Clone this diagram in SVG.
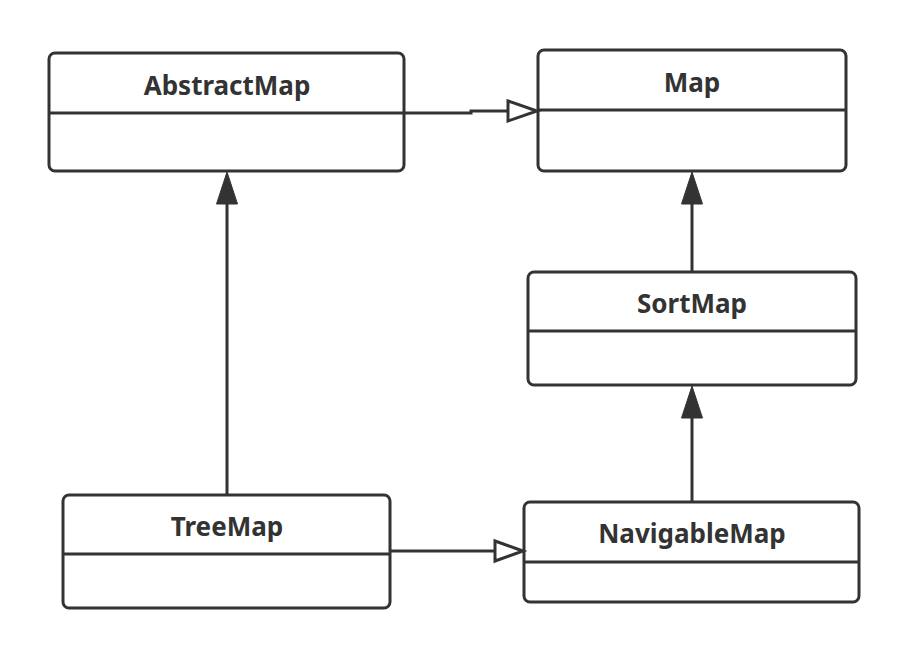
<svg xmlns="http://www.w3.org/2000/svg" width="910" height="659" viewBox="0 0 910 659">
<style>
.box{fill:#fff;stroke:#333;stroke-width:3}
.div{stroke:#333;stroke-width:3}
.lbl{font-family:"Noto Sans","Open Sans","Liberation Sans",sans-serif;font-weight:bold;font-size:26px;fill:#333;text-anchor:middle}
.ln{stroke:#333;stroke-width:3;fill:none}
.filled{fill:#333;stroke:#333;stroke-width:1}
.hollow{fill:#fff;stroke:#333;stroke-width:3}
</style>
<rect width="910" height="659" fill="#fff"/>
<g id="AbstractMap">
<rect class="box" x="49" y="53" width="355" height="118" rx="6"/>
<line class="div" x1="49" y1="113" x2="404" y2="113"/>
<text class="lbl" x="227" y="95">AbstractMap</text>
</g>
<g id="Map">
<rect class="box" x="538" y="50" width="308" height="121" rx="6"/>
<line class="div" x1="538" y1="110" x2="846" y2="110"/>
<text class="lbl" x="692" y="92">Map</text>
</g>
<g id="SortMap">
<rect class="box" x="528" y="272" width="328" height="113" rx="6"/>
<line class="div" x1="528" y1="331" x2="856" y2="331"/>
<text class="lbl" x="692" y="313">SortMap</text>
</g>
<g id="TreeMap">
<rect class="box" x="63" y="495" width="327" height="113" rx="6"/>
<line class="div" x1="63" y1="554" x2="390" y2="554"/>
<text class="lbl" x="227" y="536">TreeMap</text>
</g>
<g id="NavigableMap">
<rect class="box" x="524" y="502" width="335" height="100" rx="6"/>
<line class="div" x1="524" y1="562" x2="859" y2="562"/>
<text class="lbl" x="692" y="543">NavigableMap</text>
</g>
<g id="connectors">
<polyline class="ln" points="404,113 471,113 471,111 508,111"/>
<polygon class="hollow" points="508,101 537,111 508,121"/>
<line class="ln" x1="390" y1="551" x2="495" y2="551"/>
<polygon class="hollow" points="495,541 523,551 495,561"/>
<line class="ln" x1="227" y1="495" x2="227" y2="200"/>
<polygon class="filled" points="227,172 216.5,204 237.5,204"/>
<line class="ln" x1="692" y1="272" x2="692" y2="200"/>
<polygon class="filled" points="692,172 681.5,204 702.5,204"/>
<line class="ln" x1="692" y1="502" x2="692" y2="415"/>
<polygon class="filled" points="692,386 681.5,418 702.5,418"/>
</g>
</svg>
